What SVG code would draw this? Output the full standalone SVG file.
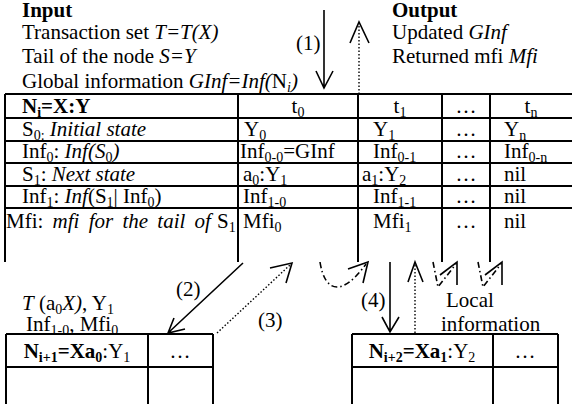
<svg xmlns="http://www.w3.org/2000/svg" width="572" height="404" viewBox="0 0 572 404">
  <style>
    text { font-family: "Liberation Serif", "Times New Roman", serif; font-size: 21px; fill: #000; }
    .b { font-weight: bold; }
    .i { font-style: italic; }
    .s { font-size: 14px; baseline-shift: -4px; }
    .m { text-anchor: middle; }
    .grid { stroke: #000; stroke-width: 2; fill: none; }
    .solid { stroke: #000; stroke-width: 1.6; fill: none; }
    .dot { stroke: #000; stroke-width: 1.4; fill: none; stroke-dasharray: 1.5 2; }
    .dd { stroke: #000; stroke-width: 1.6; fill: none; stroke-dasharray: 6 3 1.5 3; }
  </style>

  <!-- input / output descriptions -->
  <g id="input">
    <text x="22" y="17" class="b">Input</text>
    <text x="22" y="39">Transaction set <tspan class="i">T=T(X)</tspan></text>
    <text x="22" y="63">Tail of the node <tspan class="i">S=Y</tspan></text>
    <text x="22" y="88">Global information <tspan class="i">GInf=Inf(</tspan>N<tspan class="s i">i</tspan><tspan class="i">)</tspan></text>
  </g>
  <g id="output">
    <text x="392" y="17" class="b">Output</text>
    <text x="392" y="39">Updated <tspan class="i">GInf</tspan></text>
    <text x="392" y="63">Returned mfi <tspan class="i">Mfi</tspan></text>
  </g>

  <!-- node N_i : state table -->
  <g id="node-ni">
    <path class="grid" d="M5,94 H572 M5,118 H572 M5,141 H572 M5,163 H572 M5,186 H572 M5,208 H572
                          M5,94 V262 M238,94 V262 M358,94 V262 M442,94 V262 M490,94 V262"/>
    <text x="22" y="113" class="b">N<tspan class="s">i</tspan>=X:Y</text>
    <text x="298" y="113" class="m">t<tspan class="s">0</tspan></text>
    <text x="400" y="113" class="m">t<tspan class="s">1</tspan></text>
    <text x="466" y="113" class="m">…</text>
    <text x="531" y="113" class="m">t<tspan class="s">n</tspan></text>

    <text x="22" y="136">S<tspan class="s">0:</tspan> <tspan class="i">Initial state</tspan></text>
    <text x="244" y="136">Y<tspan class="s">0</tspan></text>
    <text x="373" y="136">Y<tspan class="s">1</tspan></text>
    <text x="466" y="136" class="m">…</text>
    <text x="504" y="136">Y<tspan class="s">n</tspan></text>

    <text x="22" y="158">Inf<tspan class="s">0</tspan>: <tspan class="i">Inf(S</tspan><tspan class="s">0</tspan><tspan class="i">)</tspan></text>
    <text x="240" y="158">Inf<tspan class="s">0-0</tspan>=GInf</text>
    <text x="373" y="158">Inf<tspan class="s">0-1</tspan></text>
    <text x="466" y="158" class="m">…</text>
    <text x="504" y="158">Inf<tspan class="s">0-n</tspan></text>

    <text x="22" y="181">S<tspan class="s">1</tspan>: <tspan class="i">Next state</tspan></text>
    <text x="243" y="181">a<tspan class="s">0</tspan>:Y<tspan class="s">1</tspan></text>
    <text x="362" y="181">a<tspan class="s">1</tspan>:Y<tspan class="s">2</tspan></text>
    <text x="466" y="181" class="m">…</text>
    <text x="504" y="181">nil</text>

    <text x="22" y="203">Inf<tspan class="s">1</tspan>: <tspan class="i">Inf</tspan>(S<tspan class="s">1</tspan>| Inf<tspan class="s">0</tspan>)</text>
    <text x="243" y="203">Inf<tspan class="s">1-0</tspan></text>
    <text x="373" y="203">Inf<tspan class="s">1-1</tspan></text>
    <text x="466" y="203" class="m">…</text>
    <text x="504" y="203">nil</text>

    <text x="6" y="228" style="word-spacing:4px">Mfi: <tspan class="i">mfi for the tail of</tspan><tspan x="217">S</tspan><tspan class="s">1</tspan></text>
    <text x="243" y="228">Mfi<tspan class="s">0</tspan></text>
    <text x="373" y="228">Mfi<tspan class="s">1</tspan></text>
    <text x="466" y="228" class="m">…</text>
    <text x="504" y="228">nil</text>
  </g>

  <!-- child node N_i+1 -->
  <g id="node-ni1">
    <path class="grid" d="M6,334 H213 M6,367 H213 M6,334 V404 M148,334 V404 M213,334 V404"/>
    <text x="77" y="358" class="m"><tspan class="b">N</tspan><tspan class="s b">i+1</tspan><tspan class="b">=Xa</tspan><tspan class="s b">0</tspan>:Y<tspan class="s">1</tspan></text>
    <text x="180" y="358" class="m">…</text>
  </g>

  <!-- child node N_i+2 -->
  <g id="node-ni2">
    <path class="grid" d="M352,334 H558 M352,367 H558 M352,334 V404 M493,334 V404 M558,334 V404"/>
    <text x="422" y="358" class="m"><tspan class="b">N</tspan><tspan class="s b">i+2</tspan><tspan class="b">=Xa</tspan><tspan class="s b">1</tspan>:Y<tspan class="s">2</tspan></text>
    <text x="525" y="358" class="m">…</text>
  </g>

  <!-- connectors -->
  <g id="connectors">
    <!-- (1) call into N_i and return -->
    <path class="solid" d="M324,10 V88 M316,71 L324,88 L333,71"/>
    <path class="dot" d="M359,94 V24"/>
    <path class="solid" d="M350,43 L359,22 L369,43"/>
    <!-- (2) descend to N_i+1 -->
    <path class="solid" d="M243,263 L168,333 M185,329 L168,333 L174,318"/>
    <!-- (3) return from N_i+1 -->
    <path class="dot" d="M217,333 L290,265"/>
    <path class="solid" d="M270,268 L292,263 L286,283"/>
    <!-- local information flows -->
    <path class="dd" d="M320,262 C325,294 343,296 366,264"/>
    <path class="solid" d="M348,269 L368,262 L363,283"/>
    <!-- (4) descend to N_i+2 and return -->
    <path class="solid" d="M390,262 V332 M382,317 L390,332 L399,317"/>
    <path class="dot" d="M415,333 V264"/>
    <path class="solid" d="M408,282 L415,262 L423,282"/>
    <path class="dd" d="M433,262 L438,287 L456,264"/>
    <path class="solid" d="M440,275 L457,262 L457,285"/>
    <path class="dd" d="M478,262 L483,287 L501,264"/>
    <path class="solid" d="M485,275 L502,262 L502,285"/>
  </g>

  <!-- edge labels -->
  <g id="labels">
    <text x="296" y="50">(1)</text>
    <text x="176" y="296">(2)</text>
    <text x="258" y="327">(3)</text>
    <text x="361" y="307">(4)</text>
    <text x="22" y="310"><tspan class="i">T</tspan> (a<tspan class="s">0</tspan><tspan class="i">X)</tspan>, Y<tspan class="s">1</tspan></text>
    <text x="26" y="331">Inf<tspan class="s">1-0</tspan>, Mfi<tspan class="s">0</tspan></text>
    <text x="446" y="307">Local</text>
    <text x="441" y="331">information</text>
  </g>
</svg>
